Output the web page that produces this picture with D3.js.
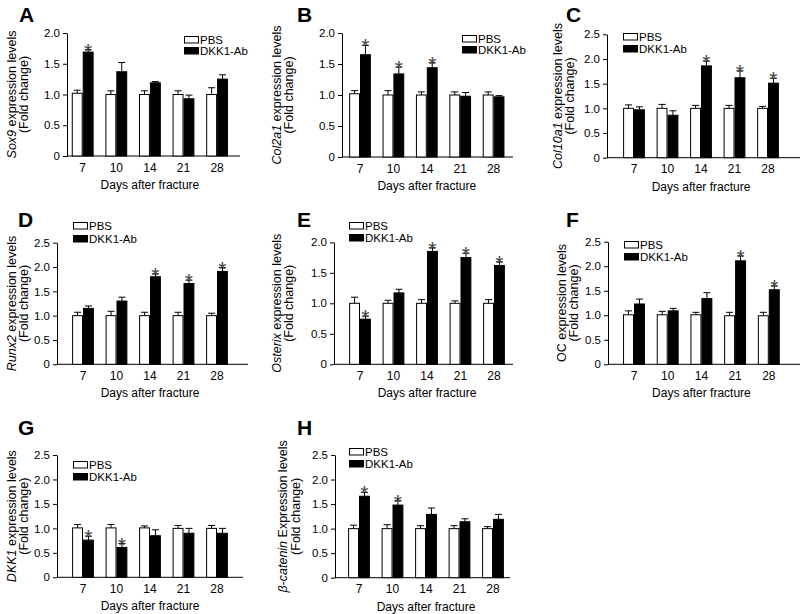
<!DOCTYPE html>
<html><head><meta charset="utf-8">
<script src="https://cdn.jsdelivr.net/npm/d3@7"></script>
<style>
body{margin:0;background:#fff;}
svg{display:block;font-family:"Liberation Sans",Arial,sans-serif;}
</style></head>
<body>
<svg id="chart" width="800" height="614"></svg>
<script>
// ---------- data ----------
const days = ["7","10","14","21","28"];
const groups = ["PBS","DKK1-Ab"];
const panelLetters = ["A","B","C","D","E","F","G","H"];
const genes = ["Sox9","Col2a1","Col10a1","Runx2","Osterix","OC","DKK1","β-catenin"];
const geneItalic = [true,true,true,true,true,false,true,true];
const labelSuffix = [" expression levels"," expression levels"," expression levels"," expression levels"," expression levels"," expression levels"," expression levels"," Expression levels"];
const yMaxes = [2.0,2.0,2.5,2.5,2.0,2.5,2.5,2.5];

const sox9PBS = [1.02,1.00,1.00,1.00,1.00];
const sox9PBSErr = [0.05,0.06,0.06,0.06,0.11];
const sox9DKK = [1.69,1.37,1.19,0.93,1.25];
const sox9DKKErr = [0.04,0.15,0.02,0.06,0.07];
const sox9Sig = [1,0,0,0,0];

const col2a1PBS = [1.02,1.00,1.00,1.00,1.00];
const col2a1PBSErr = [0.05,0.07,0.05,0.05,0.05];
const col2a1DKK = [1.65,1.34,1.44,0.98,0.97];
const col2a1DKKErr = [0.15,0.11,0.08,0.06,0.02];
const col2a1Sig = [1,1,1,0,0];

const col10a1PBS = [1.00,1.00,1.00,1.00,1.00];
const col10a1PBSErr = [0.07,0.08,0.06,0.06,0.04];
const col10a1DKK = [0.97,0.86,1.86,1.62,1.51];
const col10a1DKKErr = [0.06,0.09,0.10,0.14,0.10];
const col10a1Sig = [0,0,1,1,1];

const runx2PBS = [1.00,1.00,1.00,1.00,1.00];
const runx2PBSErr = [0.07,0.09,0.07,0.07,0.05];
const runx2DKK = [1.15,1.30,1.80,1.66,1.91];
const runx2DKKErr = [0.05,0.08,0.06,0.07,0.08];
const runx2Sig = [0,0,1,1,1];

const osterixPBS = [1.00,1.00,1.00,1.00,1.00];
const osterixPBSErr = [0.10,0.05,0.06,0.04,0.06];
const osterixDKK = [0.74,1.17,1.85,1.75,1.62];
const osterixDKKErr = [0.05,0.06,0.06,0.07,0.06];
const osterixSig = [1,0,1,1,1];

const ocPBS = [1.01,1.01,1.01,0.99,0.99];
const ocPBSErr = [0.08,0.07,0.05,0.07,0.07];
const ocDKK = [1.23,1.09,1.34,2.11,1.52];
const ocDKKErr = [0.10,0.05,0.12,0.10,0.08];
const ocSig = [0,0,0,1,1];

const dkk1PBS = [1.01,1.01,1.01,1.00,1.00];
const dkk1PBSErr = [0.07,0.07,0.04,0.06,0.06];
const dkk1DKK = [0.76,0.61,0.85,0.90,0.90];
const dkk1DKKErr = [0.08,0.08,0.12,0.10,0.10];
const dkk1Sig = [1,1,0,0,0];

const bcatPBS = [1.00,1.00,1.00,1.00,1.00];
const bcatPBSErr = [0.07,0.08,0.06,0.06,0.04];
const bcatDKK = [1.66,1.48,1.29,1.14,1.19];
const bcatDKKErr = [0.08,0.09,0.13,0.06,0.10];
const bcatSig = [1,1,0,0,0];

const pbsMeans = [sox9PBS,col2a1PBS,col10a1PBS,runx2PBS,osterixPBS,ocPBS,dkk1PBS,bcatPBS];
const pbsErrs = [sox9PBSErr,col2a1PBSErr,col10a1PBSErr,runx2PBSErr,osterixPBSErr,ocPBSErr,dkk1PBSErr,bcatPBSErr];
const dkkMeans = [sox9DKK,col2a1DKK,col10a1DKK,runx2DKK,osterixDKK,ocDKK,dkk1DKK,bcatDKK];
const dkkErrs = [sox9DKKErr,col2a1DKKErr,col10a1DKKErr,runx2DKKErr,osterixDKKErr,ocDKKErr,dkk1DKKErr,bcatDKKErr];
const sigs = [sox9Sig,col2a1Sig,col10a1Sig,runx2Sig,osterixSig,ocSig,dkk1Sig,bcatSig];

// ---------- layout (pixel geometry) ----------
const layout = [
 {ax:67,  y0:156,   yTop:33,    c0:82.7, step:33.6, xEnd:240, l1:-55, l2:-43, lx:19,  ly:22,  legX:184, legY:[36,47]},
 {ax:342, y0:157,   yTop:33,    c0:360,  step:33.4, xEnd:513, l1:-65, l2:-53, lx:297, ly:22,  legX:462, legY:[35,46]},
 {ax:607, y0:157.7, yTop:34.3,  c0:634,  step:33.5, xEnd:800, l1:-49, l2:-37, lx:566, ly:22,  legX:623, legY:[33,45]},
 {ax:57,  y0:364.3, yTop:242.7, c0:83,   step:33.5, xEnd:248, l1:-45, l2:-33, lx:18,  ly:227, legX:73,  legY:[222,235]},
 {ax:334, y0:364.3, yTop:242.3, c0:360,  step:33.5, xEnd:513, l1:-57, l2:-45, lx:297, ly:227, legX:349, legY:[222,234]},
 {ax:608, y0:364.3, yTop:241.7, c0:634,  step:33.7, xEnd:800, l1:-46, l2:-34, lx:566, ly:227, legX:624, legY:[241,253]},
 {ax:57,  y0:577.3, yTop:455,   c0:83,   step:33.5, xEnd:243, l1:-45, l2:-33, lx:18,  ly:435, legX:73,  legY:[461,473]},
 {ax:335, y0:577.7, yTop:455,   c0:359,  step:33.5, xEnd:510, l1:-52, l2:-39, lx:297, ly:435, legX:349, legY:[448,460]}
];

const svg = d3.select("#chart");

layout.forEach((L, p) => {
  const g = svg.append("g");
  const yMax = yMaxes[p];
  const y = d3.scaleLinear().domain([0, yMax]).range([L.y0, L.yTop]);
  const x = d3.scaleBand().domain(days)
      .range([L.c0 - L.step/2, L.c0 + 4.5*L.step])
      .paddingInner(0.35).paddingOuter(0.175);
  const xs = d3.scaleBand().domain(groups).range([0, x.bandwidth()]);

  // y axis
  const ticks = d3.range(0, yMax + 0.001, 0.5);
  const yAx = g.append("g").attr("transform", `translate(${L.ax},0)`)
    .call(d3.axisLeft(y).tickValues(ticks).tickSize(4).tickSizeOuter(0).tickPadding(3)
      .tickFormat(d => d === 0 ? "0" : d3.format(".1f")(d)));
  yAx.selectAll("text").attr("font-size", 11.5).attr("fill", "#000").attr("font-family", "Liberation Sans, Arial, sans-serif");
  yAx.selectAll("line,path").attr("stroke", "#000");

  // x axis
  const xAx = g.append("g").attr("transform", `translate(0,${L.y0})`)
    .call(d3.axisBottom(x).tickSize(0).tickPadding(7));
  xAx.select(".domain").remove();
  xAx.selectAll("text").attr("font-size", 12).attr("fill", "#000").attr("font-family", "Liberation Sans, Arial, sans-serif");
  g.append("line").attr("x1", L.ax).attr("x2", L.xEnd).attr("y1", L.y0).attr("y2", L.y0)
    .attr("stroke", "#000").attr("stroke-width", 1);

  // bars
  const rows = days.map((d, i) => ({day: d, i,
      vals: [{grp: "PBS", m: pbsMeans[p][i], e: pbsErrs[p][i], sig: 0},
             {grp: "DKK1-Ab", m: dkkMeans[p][i], e: dkkErrs[p][i], sig: sigs[p][i]}]}));
  const grp = g.selectAll(".grp").data(rows).enter().append("g")
      .attr("transform", d => `translate(${x(d.day)},0)`);
  const bar = grp.selectAll(".b").data(d => d.vals).enter().append("g");
  // error bars (upper only)
  bar.append("line")
     .attr("x1", d => xs(d.grp) + xs.bandwidth()/2).attr("x2", d => xs(d.grp) + xs.bandwidth()/2)
     .attr("y1", d => y(d.m)).attr("y2", d => y(d.m + d.e)).attr("stroke", "#000");
  bar.append("line")
     .attr("x1", d => xs(d.grp) + xs.bandwidth()/2 - 3.5).attr("x2", d => xs(d.grp) + xs.bandwidth()/2 + 3.5)
     .attr("y1", d => y(d.m + d.e)).attr("y2", d => y(d.m + d.e)).attr("stroke", "#000");
  bar.append("rect")
     .attr("x", d => xs(d.grp) + 0.5).attr("width", xs.bandwidth() - 1)
     .attr("y", d => y(d.m)).attr("height", d => L.y0 - y(d.m))
     .attr("fill", d => d.grp === "PBS" ? "#fff" : "#000").attr("stroke", "#000");
  bar.filter(d => d.sig).append("text")
     .attr("x", d => xs(d.grp) + xs.bandwidth()/2)
     .attr("y", d => y(d.m + d.e) + 8)
     .attr("text-anchor", "middle").attr("font-size", 21).attr("fill", "#444")
     .text("*");

  // y label
  const cy = (L.y0 + L.yTop) / 2;
  const t1 = g.append("text").attr("transform", `translate(${L.ax + L.l1},${cy}) rotate(-90)`)
     .attr("text-anchor", "middle").attr("dy", "0.35em").attr("font-size", 12.5).attr("fill", "#000");
  t1.append("tspan").attr("font-style", geneItalic[p] ? "italic" : "normal").text(genes[p]);
  t1.append("tspan").text(labelSuffix[p]);
  g.append("text").attr("transform", `translate(${L.ax + L.l2},${cy}) rotate(-90)`)
     .attr("text-anchor", "middle").attr("dy", "0.35em").attr("font-size", 12.5).attr("fill", "#000")
     .text("(Fold change)");

  // x label
  g.append("text").attr("x", L.c0 + 2*L.step).attr("y", L.y0 + 33)
     .attr("text-anchor", "middle").attr("font-size", 12).attr("fill", "#000")
     .text("Days after fracture");

  // panel letter
  g.append("text").attr("x", L.lx).attr("y", L.ly).attr("font-size", 21).attr("font-weight", "bold")
     .attr("fill", "#000").text(panelLetters[p]);

  // legend
  groups.forEach((name, k) => {
    g.append("rect").attr("x", L.legX + 0.5).attr("y", L.legY[k] + 0.5).attr("width", 14).attr("height", 6.5)
     .attr("fill", k === 0 ? "#fff" : "#000").attr("stroke", "#000");
    g.append("text").attr("x", L.legX + 16).attr("y", L.legY[k] + 7.5)
     .attr("font-size", 11.5).attr("fill", "#000").text(name);
  });
});
</script>
</body></html>
